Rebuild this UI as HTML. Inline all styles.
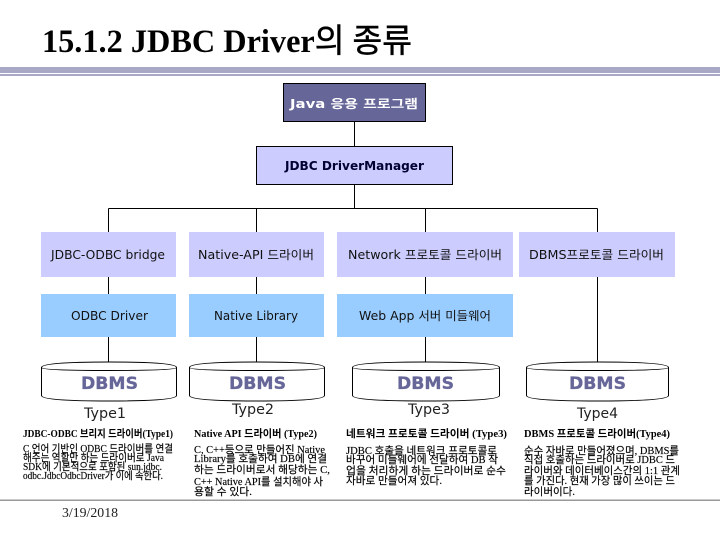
<!DOCTYPE html>
<html lang="ko"><head><meta charset="utf-8"><title>15.1.2 JDBC Driver의 종류</title>
<style>
html,body{margin:0;padding:0;background:#fff}
svg{display:block}
.t{font-family:"Liberation Serif","Noto Sans CJK KR",serif;font-weight:bold;font-size:33px;fill:#000}
.t tspan{font-weight:normal;stroke:#000;stroke-width:.5px}
.l{font-family:"DejaVu Sans","Noto Sans CJK KR",sans-serif;font-size:12px;fill:#111}
.b{font-weight:bold}
.d{font-family:"DejaVu Sans",sans-serif;font-weight:bold;font-size:17px;fill:#666699;stroke:#666699;stroke-width:.3px}
.ty{font-family:"DejaVu Sans",sans-serif;font-size:14px;fill:#222}
.h{font-family:"Liberation Serif","Noto Sans CJK KR",serif;font-weight:bold;font-size:10.5px;fill:#000}
.p{font-family:"Liberation Serif","Noto Sans CJK KR",serif;font-size:10.5px;fill:#000;stroke:#000;stroke-width:.15px}
.dt{font-family:"Liberation Serif",serif;font-size:14px;fill:#222}
</style></head><body>
<svg width="720" height="540" viewBox="0 0 720 540" xmlns="http://www.w3.org/2000/svg">
<rect width="720" height="540" fill="#fff"/>
<text class="t" x="42" y="52" textLength="370" lengthAdjust="spacingAndGlyphs">15.1.2 JDBC Driver<tspan>의 종류</tspan></text>
<rect x="0" y="67" width="720" height="6" fill="#a9a9c6"/>
<rect x="0" y="74" width="720" height="2" fill="#a9a9c6"/>
<g stroke="#000" stroke-width="1" fill="none" shape-rendering="crispEdges">
<path d="M354.5 121V146M354.5 184V208.5M108.5 208.5H597.5M108.5 208.5V232M256.5 208.5V232M425.5 208.5V232M597.5 208.5V362M108.5 277V294M256.5 277V294M425.5 277V294M108.5 337V362M256.5 337V362M425.5 337V362"/>
</g>
<rect x="283.5" y="83.5" width="142" height="38" fill="#666699" stroke="#000"/>
<rect x="256.5" y="146.5" width="196" height="38" fill="#ccccff" stroke="#000"/>
<g fill="#ccccff">
<rect x="41" y="232" width="135" height="45"/><rect x="189" y="232" width="135" height="45"/>
<rect x="337" y="232" width="176" height="45"/><rect x="519" y="232" width="156" height="45"/>
</g>
<g fill="#99ccff">
<rect x="41" y="294" width="135" height="43"/><rect x="189" y="294" width="135" height="43"/><rect x="337" y="294" width="176" height="43"/>
</g>
<g fill="#fff" stroke="#000" stroke-width="1">
<path d="M41.5 367.5Q41.5 362 109 362Q176.500 362 176.500 367.500V395.500Q176.500 401 109 401Q41.500 401 41.500 395.500ZM41.500 367.500Q41.500 370.500 109 370.500Q176.500 370.500 176.500 367.500"/>
<path d="M189.500 367.500Q189.500 362 257 362Q324.500 362 324.500 367.500V395.500Q324.500 401 257 401Q189.500 401 189.500 395.500ZM189.500 367.500Q189.500 370.500 257 370.500Q324.500 370.500 324.500 367.500"/>
<path d="M352.500 367.500Q352.500 362 426 362Q499.500 362 499.500 367.500V395.500Q499.500 401 426 401Q352.500 401 352.500 395.500ZM352.500 367.500Q352.500 370.500 426 370.500Q499.500 370.500 499.500 367.500"/>
<path d="M526.500 367.500Q526.500 362 597.500 362Q668.500 362 668.500 367.500V395.500Q668.500 401 597.500 401Q526.500 401 526.500 395.500ZM526.500 367.500Q526.500 370.500 597.500 370.500Q668.500 370.500 668.500 367.500"/>
</g>
<text class="l b" style="fill:#fff" x="290" y="108" textLength="128" lengthAdjust="spacingAndGlyphs">Java 응용 프로그램</text>
<text class="l b" style="fill:#000033" x="285" y="170" textLength="139" lengthAdjust="spacingAndGlyphs">JDBC DriverManager</text>
<text class="l" x="51" y="259" textLength="114" lengthAdjust="spacingAndGlyphs">JDBC-ODBC bridge</text>
<text class="l" x="198" y="259" textLength="116" lengthAdjust="spacingAndGlyphs">Native-API 드라이버</text>
<text class="l" x="348" y="259" textLength="154" lengthAdjust="spacingAndGlyphs">Network 프로토콜 드라이버</text>
<text class="l" x="529" y="259" textLength="135" lengthAdjust="spacingAndGlyphs">DBMS프로토콜 드라이버</text>
<text class="l" x="71" y="320" textLength="77" lengthAdjust="spacingAndGlyphs">ODBC Driver</text>
<text class="l" x="214" y="320" textLength="84" lengthAdjust="spacingAndGlyphs">Native Library</text>
<text class="l" x="359" y="320" textLength="132" lengthAdjust="spacingAndGlyphs">Web App 서버 미들웨어</text>
<text class="d" x="81" y="389" textLength="57" lengthAdjust="spacingAndGlyphs">DBMS</text>
<text class="d" x="229" y="389" textLength="57" lengthAdjust="spacingAndGlyphs">DBMS</text>
<text class="d" x="397" y="389" textLength="57" lengthAdjust="spacingAndGlyphs">DBMS</text>
<text class="d" x="569" y="389" textLength="57" lengthAdjust="spacingAndGlyphs">DBMS</text>
<text class="ty" x="84" y="418" textLength="42" lengthAdjust="spacingAndGlyphs">Type1</text>
<text class="ty" x="232" y="414" textLength="42" lengthAdjust="spacingAndGlyphs">Type2</text>
<text class="ty" x="408" y="414" textLength="42" lengthAdjust="spacingAndGlyphs">Type3</text>
<text class="ty" x="577" y="418" textLength="41" lengthAdjust="spacingAndGlyphs">Type4</text>
<text class="h" x="23" y="437" textLength="150" lengthAdjust="spacingAndGlyphs">JDBC-ODBC 브리지 드라이버(Type1)</text>
<text class="h" x="194" y="437" textLength="123" lengthAdjust="spacingAndGlyphs">Native API 드라이버 (Type2)</text>
<text class="h" x="346" y="437" textLength="161" lengthAdjust="spacingAndGlyphs">네트워크 프로토콜 드라이버 (Type3)</text>
<text class="h" x="524" y="437" textLength="146" lengthAdjust="spacingAndGlyphs">DBMS 프로토콜 드라이버(Type4)</text>
<text class="p" x="23" y="452" textLength="150" lengthAdjust="spacingAndGlyphs">C 언어 기반인 ODBC 드라이버를 연결</text>
<text class="p" x="23" y="461" textLength="141" lengthAdjust="spacingAndGlyphs">해주는 역할만 하는 드라이버로 Java</text>
<text class="p" x="23" y="470" textLength="139" lengthAdjust="spacingAndGlyphs">SDK에 기본적으로 포함된 sun.jdbc.</text>
<text class="p" x="23" y="479" textLength="140" lengthAdjust="spacingAndGlyphs">odbc.JdbcOdbcDriver가 이에 속한다.</text>
<text class="p" x="194" y="453" textLength="131" lengthAdjust="spacingAndGlyphs">C, C++등으로 만들어진 Native</text>
<text class="p" x="194" y="462" textLength="133" lengthAdjust="spacingAndGlyphs">Library를 호출하여 DB에 연결</text>
<text class="p" x="194" y="473" textLength="136" lengthAdjust="spacingAndGlyphs">하는 드라이버로서 해당하는 C,</text>
<text class="p" x="194" y="485" textLength="129" lengthAdjust="spacingAndGlyphs">C++ Native API를 설치해야 사</text>
<text class="p" x="194" y="495" textLength="58" lengthAdjust="spacingAndGlyphs">용할 수 있다.</text>
<text class="p" x="346" y="454" textLength="151" lengthAdjust="spacingAndGlyphs">JDBC 호출을 네트워크 프로토콜로</text>
<text class="p" x="346" y="463" textLength="152" lengthAdjust="spacingAndGlyphs">바꾸어 미들웨어에 전달하여 DB 작</text>
<text class="p" x="346" y="474" textLength="160" lengthAdjust="spacingAndGlyphs">업을 처리하게 하는 드라이버로 순수</text>
<text class="p" x="346" y="484" textLength="96" lengthAdjust="spacingAndGlyphs">자바로 만들어져 있다.</text>
<text class="p" x="524" y="454" textLength="155" lengthAdjust="spacingAndGlyphs">순수 자바로 만들어졌으며, DBMS를</text>
<text class="p" x="524" y="463" textLength="151" lengthAdjust="spacingAndGlyphs">직접 호출하는 드라이버로 JDBC 드</text>
<text class="p" x="524" y="474" textLength="156" lengthAdjust="spacingAndGlyphs">라이버와 데이터베이스간의 1:1 관계</text>
<text class="p" x="524" y="484" textLength="151" lengthAdjust="spacingAndGlyphs">를 가진다. 현재 가장 많이 쓰이는 드</text>
<text class="p" x="524" y="495" textLength="51" lengthAdjust="spacingAndGlyphs">라이버이다.</text>
<rect x="0" y="499.500" width="720" height="1.500" fill="#999"/>
<text class="dt" x="62" y="517" textLength="56" lengthAdjust="spacingAndGlyphs">3/19/2018</text>
</svg>
</body></html>
